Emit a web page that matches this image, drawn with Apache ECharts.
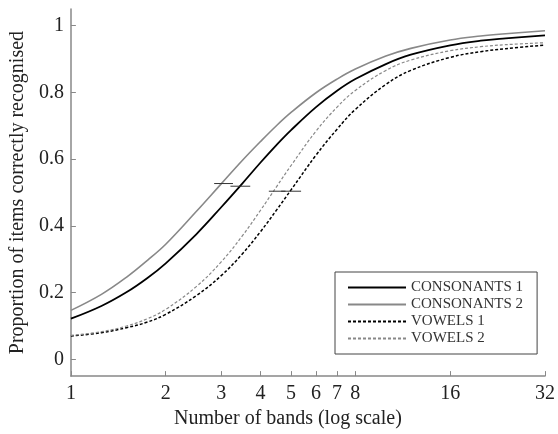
<!DOCTYPE html>
<html lang="en">
<head>
    <meta charset="UTF-8">
    <title>Bands</title>
    <script src="https://cdn.jsdelivr.net/npm/echarts@6/dist/echarts.min.js"></script>
    <style>
        body { margin: 0; background: #fff; }
    </style>
</head>
<body>
    <div id="main" style="width: 558px;height:434px;"></div>

    <script type="text/javascript">
        // data
        var bands = [1, 1.25, 1.5, 1.75, 2, 2.5, 3, 3.5, 4, 4.5, 5, 6, 7, 8, 10, 12, 16, 20, 24, 32];
        var consonants1 = [0.122, 0.160, 0.201, 0.244, 0.288, 0.375, 0.456, 0.527, 0.59, 0.643, 0.687, 0.756, 0.805, 0.84, 0.885, 0.913, 0.941, 0.955, 0.962, 0.971];
        var consonants2 = [0.147, 0.195, 0.246, 0.297, 0.345, 0.443, 0.526, 0.596, 0.653, 0.701, 0.74, 0.799, 0.84, 0.87, 0.909, 0.932, 0.957, 0.969, 0.976, 0.985];
        var vowels1 = [0.07, 0.08, 0.095, 0.112, 0.135, 0.191, 0.251, 0.316, 0.383, 0.448, 0.508, 0.612, 0.69, 0.749, 0.824, 0.866, 0.905, 0.922, 0.931, 0.942];
        var vowels2 = [0.072, 0.083, 0.1, 0.122, 0.15, 0.218, 0.292, 0.37, 0.447, 0.518, 0.581, 0.684, 0.756, 0.806, 0.866, 0.897, 0.925, 0.937, 0.943, 0.949];

        // 50% threshold markers (short horizontal bars)
        var markC1 = [[3.21, 0.519], [3.71, 0.519]];
        var markC2 = [[2.85, 0.527], [3.27, 0.527]];
        var markV1 = [[4.65, 0.504], [5.38, 0.504]];
        var markV2 = [[4.25, 0.504], [4.8, 0.504]];

        var xTicks = [1, 2, 3, 4, 5, 6, 7, 8, 16, 32];
        var yTicks = [0, 0.2, 0.4, 0.6, 0.8, 1];

        var names = ['CONSONANTS 1', 'CONSONANTS 2', 'VOWELS 1', 'VOWELS 2'];

        function pairs(vals) {
            return bands.map(function (b, i) { return [b, vals[i]]; });
        }

        var serif = 'Liberation Serif';
        var myChart = echarts.init(document.getElementById('main'));

        function curve(name, vals, color, width, dash) {
            return {
                name: name,
                type: 'line',
                data: pairs(vals),
                symbol: 'none',
                smooth: 0.4,
                lineStyle: { color: color, width: width, type: dash },
                itemStyle: { color: color },
                z: 3
            };
        }

        function marker(data) {
            return {
                type: 'line',
                data: data,
                symbol: 'none',
                silent: true,
                lineStyle: { color: '#333', width: 1 },
                z: 4
            };
        }

        option = {
            animation: false,
            backgroundColor: '#fff',
            grid: { left: 69, right: 13, top: 9, bottom: 54 },
            legend: {
                data: names,
                orient: 'vertical',
                left: 335,
                top: 272,
                itemWidth: 58,
                itemHeight: 14,
                itemGap: 2,
                padding: [8, 14, 8, 12],
                borderColor: '#444',
                borderWidth: 1,
                itemStyle: { opacity: 0 },
                textStyle: { fontFamily: serif, fontSize: 15, color: '#333' }
            },
            xAxis: {
                type: 'log',
                logBase: 2,
                min: 1,
                max: 32,
                name: 'Number of bands (log scale)',
                nameLocation: 'middle',
                nameGap: 30,
                nameTextStyle: { fontFamily: serif, fontSize: 20, color: '#222', padding: [0, 40, 0, 0] },
                axisLine: { onZero: false, lineStyle: { color: '#888', width: 1.5 } },
                axisTick: { inside: true, length: 5, customValues: xTicks, lineStyle: { color: '#888' } },
                axisLabel: { customValues: xTicks, fontFamily: serif, fontSize: 20, color: '#222', margin: 8 },
                splitLine: { show: false }
            },
            yAxis: {
                type: 'value',
                min: -0.05,
                max: 1.05,
                name: 'Proportion of items correctly recognised',
                nameLocation: 'middle',
                nameGap: 40,
                nameTextStyle: { fontFamily: serif, fontSize: 20, color: '#222' },
                axisLine: { show: true, onZero: false, lineStyle: { color: '#888', width: 1.5 } },
                axisTick: { show: true, inside: true, length: 5, customValues: yTicks, lineStyle: { color: '#888' } },
                axisLabel: { customValues: yTicks, fontFamily: serif, fontSize: 20, color: '#222', margin: 7 },
                splitLine: { show: false }
            },
            series: [
                curve(names[0], consonants1, '#000', 1.8, 'solid'),
                curve(names[1], consonants2, '#888', 1.6, 'solid'),
                curve(names[2], vowels1, '#000', 1.5, [3, 2]),
                curve(names[3], vowels2, '#888', 1.2, [3, 2]),
                marker(markC1),
                marker(markC2),
                marker(markV1),
                marker(markV2)
            ]
        };

        myChart.setOption(option);
    </script>
</body>
</html>
